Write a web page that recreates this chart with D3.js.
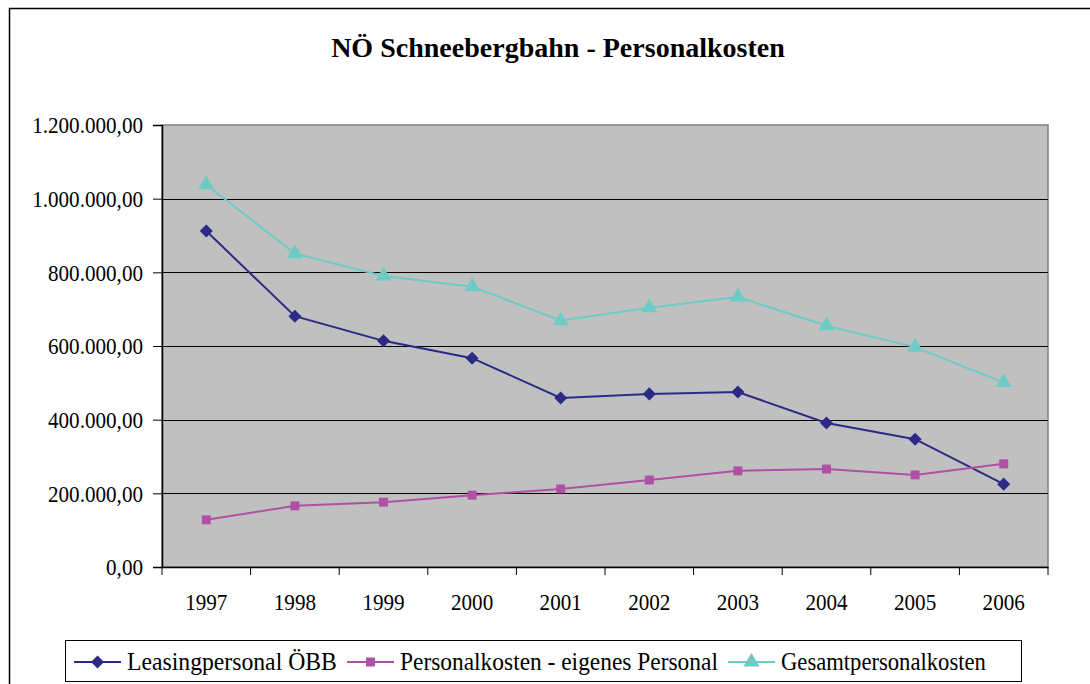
<!DOCTYPE html>
<html><head><meta charset="utf-8">
<script src="https://cdn.jsdelivr.net/npm/d3@7/dist/d3.min.js"></script>
<style>body{margin:0;background:#fff;}svg{display:block;}</style>
</head><body>
<svg id="c" width="1090" height="684"></svg>
<script>
const years = ["1997","1998","1999","2000","2001","2002","2003","2004","2005","2006"];
const leasing = [912000, 681000, 614000, 567000, 459000, 470000, 475000, 391000, 347000, 225000];
const eigenes = [128000, 166000, 176000, 195000, 212000, 236000, 261000, 266000, 250000, 280000];
const gesamt = [1038000, 851000, 790000, 761000, 669000, 704000, 733000, 655000, 597000, 501000];
const yTicks = [0, 200000, 400000, 600000, 800000, 1000000, 1200000];
const seriesNames = ["Leasingpersonal ÖBB", "Personalkosten - eigenes Personal", "Gesamtpersonalkosten"];
const title = "NÖ Schneebergbahn - Personalkosten";

const FONT = "Liberation Serif";
const series = [
  {name: seriesNames[0], values: leasing, color: "#2B2B85", sym: d3.symbolSquare, rot: 45, size: 85},
  {name: seriesNames[1], values: eigenes, color: "#B04FA6", sym: d3.symbolSquare, rot: 0, size: 80},
  {name: seriesNames[2], values: gesamt, color: "#6CCBC4", sym: d3.symbolTriangle, rot: 0, size: 110}
];

function squashTo(node, sx) {
  const s = d3.select(node);
  const x0 = +s.attr("x") || 0, y0 = +s.attr("y") || 0;
  s.attr("x", 0).attr("y", 0).attr("transform", `translate(${x0},${y0}) scale(${sx},1)`);
}
function squashWidth(node, target) {
  squashTo(node, target / node.getComputedTextLength());
}

const svg = d3.select("#c");
const L = 162, R = 1048, T = 125, B = 567;

svg.append("rect").attr("x", 9.5).attr("y", 8.5).attr("width", 1100).attr("height", 700)
  .attr("fill", "#fff").attr("stroke", "#000").attr("stroke-width", 1.5);

const tt = svg.append("text").attr("x", 558).attr("y", 57).attr("text-anchor", "middle")
  .style("font-family", FONT).attr("font-size", 28).attr("font-weight", "bold").text(title);
squashWidth(tt.node(), 454);

const x = d3.scaleBand().domain(years).range([L, R]);
const y = d3.scaleLinear().domain([0, 1200000]).range([B, T]);

svg.append("rect").attr("x", L).attr("y", T).attr("width", R - L).attr("height", B - T)
  .attr("fill", "#C0C0C0").attr("stroke", "#808080").attr("stroke-width", 1.5);

svg.append("g").selectAll("line").data(yTicks.filter(d => d > 0 && d < 1200000)).join("line")
  .attr("x1", L).attr("x2", R).attr("y1", d => Math.round(y(d)) + 0.5).attr("y2", d => Math.round(y(d)) + 0.5)
  .attr("stroke", "#000").attr("stroke-width", 1);

const fmt = v => d3.format(",.2f")(v).replace(/,/g, "#").replace(/\./g, ",").replace(/#/g, ".");

const ya = svg.append("g").attr("transform", `translate(${L},0)`)
  .call(d3.axisLeft(y).tickValues(yTicks).tickSize(9).tickPadding(10).tickFormat(fmt));
ya.attr("font-family", FONT);
ya.select(".domain").attr("stroke", "#000").attr("stroke-width", 1.5);
ya.selectAll(".tick line").attr("stroke", "#000");
ya.selectAll("text").style("font-family", FONT).attr("font-size", 24).attr("fill", "#000").attr("dy", "0.33em")
  .each(function() { squashTo(this, 0.88); });

const xa = svg.append("g").attr("transform", `translate(0,${B})`)
  .call(d3.axisBottom(x).tickSize(0).tickPadding(26));
xa.attr("font-family", FONT);
xa.select(".domain").attr("stroke", "#000").attr("stroke-width", 1.5);
xa.selectAll("text").style("font-family", FONT).attr("font-size", 24).attr("fill", "#000")
  .each(function() { squashTo(this, 0.88); });

const bounds = years.map(d => x(d)).concat([R]);
svg.append("g").selectAll("line").data(bounds).join("line")
  .attr("x1", d => d).attr("x2", d => d).attr("y1", B).attr("y2", B + 8)
  .attr("stroke", "#000").attr("stroke-width", 1);

const cx = d => x(d) + x.bandwidth() / 2;
const line = d3.line().x((d, i) => cx(years[i])).y(d => y(d));

series.forEach(s => {
  svg.append("path").attr("d", line(s.values)).attr("fill", "none")
    .attr("stroke", s.color).attr("stroke-width", 2);
  svg.append("g").selectAll("path").data(s.values).join("path")
    .attr("transform", (d, i) => `translate(${cx(years[i])},${y(d)}) rotate(${s.rot})`)
    .attr("d", d3.symbol().type(s.sym).size(s.size)).attr("fill", s.color);
});

svg.append("rect").attr("x", 65.5).attr("y", 640.5).attr("width", 956).attr("height", 41)
  .attr("fill", "#fff").attr("stroke", "#000").attr("stroke-width", 1);
const lx = [74, 347, 728];
const lw = [210, 318, 205];
series.forEach((s, i) => {
  const g = svg.append("g").attr("transform", `translate(${lx[i]},662)`);
  g.append("line").attr("x1", 0).attr("x2", 47).attr("stroke", s.color).attr("stroke-width", 2);
  g.append("path").attr("transform", `translate(23.5,0) rotate(${s.rot})`).attr("d", d3.symbol().type(s.sym).size(s.size)).attr("fill", s.color);
  const t = g.append("text").attr("x", 53).attr("y", 8).style("font-family", FONT).attr("font-size", 26).attr("fill", "#000").text(s.name);
  squashWidth(t.node(), lw[i]);
});
</script>
</body></html>
